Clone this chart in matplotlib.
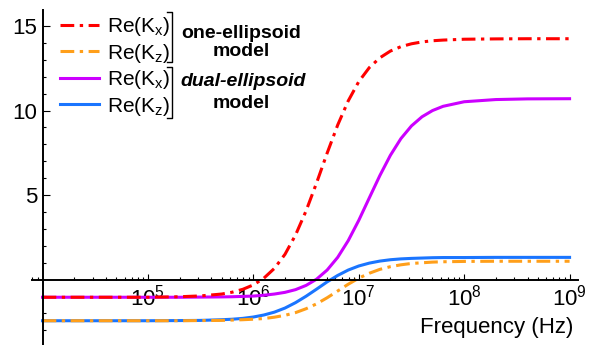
import numpy as np
import matplotlib
matplotlib.use("Agg")
import matplotlib.pyplot as plt
from matplotlib.ticker import FixedLocator, LogLocator, NullFormatter
from matplotlib.lines import Line2D

plt.rcParams['font.family'] = ['Liberation Sans', 'DejaVu Sans']
plt.rcParams['mathtext.default'] = 'regular'

# data (log10 of frequency in Hz)
log_f = [4.0, 4.5, 5.0, 5.3, 5.5, 5.7, 5.8, 5.9, 6.0, 6.1, 6.2, 6.3, 6.4, 6.5, 6.6,
         6.7, 6.8, 6.9, 7.0, 7.1, 7.2, 7.3, 7.4, 7.5, 7.6, 7.7, 7.8, 8.0, 8.3, 8.6, 9.0]
one_kx = [-1.05, -1.05, -1.05, -1.02, -0.97, -0.86, -0.75, -0.58, -0.32, 0.08, 0.66,
          1.49, 2.63, 4.06, 5.72, 7.48, 9.14, 10.57, 11.71, 12.54, 13.12, 13.52, 13.78,
          13.95, 14.06, 14.13, 14.17, 14.22, 14.24, 14.25, 14.25]
one_kz = [-2.44, -2.44, -2.44, -2.44, -2.43, -2.42, -2.40, -2.38, -2.35, -2.31, -2.23,
          -2.12, -1.96, -1.73, -1.44, -1.08, -0.68, -0.28, 0.08, 0.37, 0.60, 0.76, 0.87,
          0.95, 0.99, 1.03, 1.05, 1.07, 1.08, 1.08, 1.08]
dual_kx = [-1.05, -1.05, -1.05, -1.05, -1.04, -1.03, -1.02, -1.00, -0.98, -0.93, -0.86,
           -0.76, -0.60, -0.35, 0.02, 0.56, 1.31, 2.30, 3.50, 4.83, 6.15, 7.35, 8.34,
           9.09, 9.63, 10.00, 10.25, 10.52, 10.65, 10.69, 10.70]
dual_kz = [-2.44, -2.44, -2.44, -2.43, -2.42, -2.38, -2.35, -2.30, -2.22, -2.10, -1.93,
           -1.69, -1.37, -0.99, -0.57, -0.14, 0.24, 0.56, 0.80, 0.97, 1.09, 1.17, 1.22,
           1.25, 1.27, 1.29, 1.30, 1.30, 1.31, 1.31, 1.31]

freq = 10 ** np.array(log_f)

c_red = '#ff0000'
c_orange = '#ff9f1a'
c_purple = '#cc00ff'
c_blue = '#1a75ff'
dashdot = (0, (4.5, 1.8, 1.1, 1.8))

fig = plt.figure(figsize=(6, 3.45), dpi=100)
ax = fig.add_axes([32 / 600, 0, 546 / 600, 335 / 345])

lw = 2.2
l3, = ax.plot(freq, dual_kx, color=c_purple, lw=lw)
l4, = ax.plot(freq, dual_kz, color=c_blue, lw=lw)
l1, = ax.plot(freq, one_kx, color=c_red, lw=lw, linestyle=dashdot)
l2, = ax.plot(freq, one_kz, color=c_orange, lw=lw, linestyle=dashdot)

ax.set_xscale('log')
ax.set_xlim(10 ** 3.90, 10 ** 9.08)
ax.set_ylim(-3.876, 15.95)

# Mathematica-like crossing axes
for s in ['top', 'right']:
    ax.spines[s].set_visible(False)
ax.spines['left'].set_position(('data', 1e4))
ax.spines['bottom'].set_position(('data', 0))
ax.spines['left'].set_linewidth(1.4)
ax.spines['bottom'].set_linewidth(1.4)

ax.xaxis.set_major_locator(FixedLocator([1e5, 1e6, 1e7, 1e8, 1e9]))
ax.xaxis.set_minor_locator(LogLocator(base=10, subs=np.arange(2, 10)))
ax.xaxis.set_minor_formatter(NullFormatter())
ax.set_xticklabels([r'$10^{5}$', r'$10^{6}$', r'$10^{7}$', r'$10^{8}$', r'$10^{9}$'])
ax.yaxis.set_major_locator(FixedLocator([5, 10, 15]))
ax.yaxis.set_minor_locator(FixedLocator([v for v in range(-3, 16) if v not in (0, 5, 10, 15)]))

ax.tick_params(axis='x', which='major', direction='in', length=4.5, width=0.8,
               labelsize=16, pad=4)
ax.tick_params(axis='x', which='minor', direction='in', length=2.2, width=0.8)
ax.tick_params(axis='y', which='major', direction='in', length=5, width=0.8,
               labelsize=16, pad=4)
ax.tick_params(axis='y', which='minor', direction='in', length=2.5, width=0.8)

ax.set_xlabel('Frequency (Hz)', fontsize=16, ha='right', va='center')
ax.xaxis.set_label_coords(541 / 546, 17.5 / 335)

leg = ax.legend([l1, l2, l3, l4],
                [r'Re(K$_{x}$)', r'Re(K$_{z}$)', r'Re(K$_{x}$)', r'Re(K$_{z}$)'],
                loc='upper left', bbox_to_anchor=(60 / 600, 1 - 15 / 345),
                bbox_transform=fig.transFigure, frameon=False, fontsize=15,
                handlelength=1.85, handletextpad=0.4, labelspacing=0.17,
                borderpad=0, borderaxespad=0)

# brackets and group labels
for top, bot in [(12, 62), (67, 118)]:
    xs = [167 / 600, 172 / 600, 172 / 600, 167 / 600]
    ys = [1 - top / 345, 1 - top / 345, 1 - bot / 345, 1 - bot / 345]
    fig.add_artist(Line2D(xs, ys, color='black', lw=1.0, transform=fig.transFigure))

fig.text(241 / 600, 1 - 33 / 345, 'one-ellipsoid', fontsize=14, fontweight='bold',
         ha='center', va='center')
fig.text(241 / 600, 1 - 52 / 345, 'model', fontsize=14, fontweight='bold',
         ha='center', va='center')
fig.text(243 / 600, 1 - 81 / 345, 'dual-ellipsoid', fontsize=14, fontweight='bold',
         fontstyle='italic', ha='center', va='center')
fig.text(241 / 600, 1 - 103 / 345, 'model', fontsize=14, fontweight='bold',
         ha='center', va='center')

fig.savefig('out.png', dpi=100)
